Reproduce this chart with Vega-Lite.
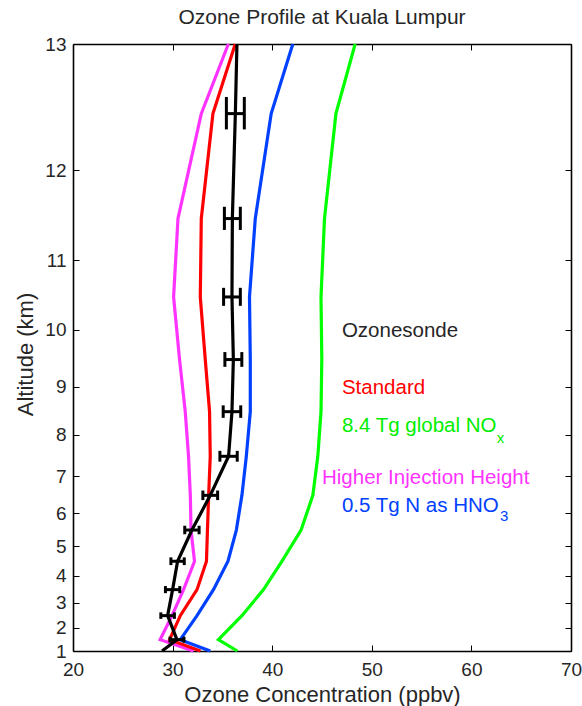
{
  "$schema": "https://vega.github.io/schema/vega-lite/v6.json",
  "width": 498,
  "height": 607,
  "autosize": "none",
  "padding": {"left": 73, "top": 44, "right": 11, "bottom": 55},
  "background": "white",
  "config": {
    "view": {"stroke": null},
    "font": "Liberation Sans",
    "axis": {
      "grid": false,
      "domainColor": "#000000",
      "domainWidth": 1.6,
      "tickColor": "#000000",
      "tickWidth": 1,
      "tickSize": -6,
      "labelColor": "#262626",
      "labelFont": "Liberation Sans",
      "labelFontSize": 19,
      "labelFlush": false,
      "labelOverlap": false,
      "titleColor": "#262626",
      "titleFont": "Liberation Sans",
      "titleFontSize": 22,
      "titleFontWeight": "normal"
    }
  },
  "title": {
    "text": "Ozone Profile at Kuala Lumpur",
    "fontSize": 21,
    "fontWeight": "normal",
    "color": "#262626",
    "font": "Liberation Sans",
    "offset": 7
  },
  "datasets": {
    "profiles": [
      {"series": "Higher Injection Height", "alt": 1, "o3": 32.1},
      {"series": "Higher Injection Height", "alt": 1.5, "o3": 28.75},
      {"series": "Higher Injection Height", "alt": 2.5, "o3": 29.94},
      {"series": "Higher Injection Height", "alt": 3.5, "o3": 31.1},
      {"series": "Higher Injection Height", "alt": 4.5, "o3": 32.2},
      {"series": "Higher Injection Height", "alt": 5.5, "o3": 31.85},
      {"series": "Higher Injection Height", "alt": 6.5, "o3": 31.78},
      {"series": "Higher Injection Height", "alt": 7.5, "o3": 31.6},
      {"series": "Higher Injection Height", "alt": 8.5, "o3": 31.27},
      {"series": "Higher Injection Height", "alt": 9.5, "o3": 30.7},
      {"series": "Higher Injection Height", "alt": 10.5, "o3": 30.1},
      {"series": "Higher Injection Height", "alt": 11.5, "o3": 30.54},
      {"series": "Higher Injection Height", "alt": 12.5, "o3": 32.88},
      {"series": "Higher Injection Height", "alt": 13, "o3": 35.6},
      {"series": "Standard", "alt": 1, "o3": 32.8},
      {"series": "Standard", "alt": 1.5, "o3": 29.7},
      {"series": "Standard", "alt": 2.5, "o3": 30.77},
      {"series": "Standard", "alt": 3.5, "o3": 32.45},
      {"series": "Standard", "alt": 4.5, "o3": 33.4},
      {"series": "Standard", "alt": 5.5, "o3": 33.5},
      {"series": "Standard", "alt": 6.5, "o3": 33.62},
      {"series": "Standard", "alt": 7.5, "o3": 33.78},
      {"series": "Standard", "alt": 8.5, "o3": 33.71},
      {"series": "Standard", "alt": 9.5, "o3": 33.28},
      {"series": "Standard", "alt": 10.5, "o3": 32.78},
      {"series": "Standard", "alt": 11.5, "o3": 32.88},
      {"series": "Standard", "alt": 12.5, "o3": 34.05},
      {"series": "Standard", "alt": 13, "o3": 36.29},
      {"series": "HNO3", "alt": 1, "o3": 33.78},
      {"series": "HNO3", "alt": 1.5, "o3": 30.77},
      {"series": "HNO3", "alt": 2.5, "o3": 32.45},
      {"series": "HNO3", "alt": 3.5, "o3": 34.1},
      {"series": "HNO3", "alt": 4.5, "o3": 35.56},
      {"series": "HNO3", "alt": 5.5, "o3": 36.4},
      {"series": "HNO3", "alt": 6.5, "o3": 36.96},
      {"series": "HNO3", "alt": 7.5, "o3": 37.4},
      {"series": "HNO3", "alt": 8.5, "o3": 37.8},
      {"series": "HNO3", "alt": 9.5, "o3": 37.8},
      {"series": "HNO3", "alt": 10.5, "o3": 37.72},
      {"series": "HNO3", "alt": 11.5, "o3": 38.3},
      {"series": "HNO3", "alt": 12.5, "o3": 39.9},
      {"series": "HNO3", "alt": 13, "o3": 42.07},
      {"series": "NOx", "alt": 1, "o3": 36.5},
      {"series": "NOx", "alt": 1.5, "o3": 34.6},
      {"series": "NOx", "alt": 2.5, "o3": 36.96},
      {"series": "NOx", "alt": 3.5, "o3": 39.13},
      {"series": "NOx", "alt": 4.5, "o3": 40.97},
      {"series": "NOx", "alt": 5.5, "o3": 42.9},
      {"series": "NOx", "alt": 6.5, "o3": 44.08},
      {"series": "NOx", "alt": 7.5, "o3": 44.58},
      {"series": "NOx", "alt": 8.5, "o3": 44.9},
      {"series": "NOx", "alt": 9.5, "o3": 44.98},
      {"series": "NOx", "alt": 10.5, "o3": 44.9},
      {"series": "NOx", "alt": 11.5, "o3": 45.25},
      {"series": "NOx", "alt": 12.5, "o3": 46.4},
      {"series": "NOx", "alt": 13, "o3": 48.33},
      {"series": "Ozonesonde", "alt": 1, "o3": 28.94},
      {"series": "Ozonesonde", "alt": 1.5, "o3": 30.44},
      {"series": "Ozonesonde", "alt": 2.5, "o3": 29.5},
      {"series": "Ozonesonde", "alt": 3.5, "o3": 30.0},
      {"series": "Ozonesonde", "alt": 4.5, "o3": 30.5},
      {"series": "Ozonesonde", "alt": 5.5, "o3": 31.94},
      {"series": "Ozonesonde", "alt": 6.5, "o3": 33.78},
      {"series": "Ozonesonde", "alt": 7.5, "o3": 35.62},
      {"series": "Ozonesonde", "alt": 8.5, "o3": 35.96},
      {"series": "Ozonesonde", "alt": 9.5, "o3": 36.1},
      {"series": "Ozonesonde", "alt": 10.5, "o3": 35.96},
      {"series": "Ozonesonde", "alt": 11.5, "o3": 36.0},
      {"series": "Ozonesonde", "alt": 12.5, "o3": 36.3},
      {"series": "Ozonesonde", "alt": 13, "o3": 36.46}
    ],
    "errors": [
      {"alt": 1.5, "lo": 29.74, "hi": 31.14},
      {"alt": 2.5, "lo": 28.82, "hi": 30.18},
      {"alt": 3.5, "lo": 29.28, "hi": 30.72},
      {"alt": 4.5, "lo": 29.83, "hi": 31.17},
      {"alt": 5.5, "lo": 31.22, "hi": 32.66},
      {"alt": 6.5, "lo": 33.04, "hi": 34.52},
      {"alt": 7.5, "lo": 34.75, "hi": 36.49},
      {"alt": 8.5, "lo": 35.08, "hi": 36.84},
      {"alt": 9.5, "lo": 35.25, "hi": 36.95},
      {"alt": 10.5, "lo": 35.12, "hi": 36.8},
      {"alt": 11.5, "lo": 35.2, "hi": 36.8},
      {"alt": 12.5, "lo": 35.4, "hi": 37.2}
    ],
    "labels": [
      {"series": "Ozonesonde", "text": "Ozonesonde", "o3": 47, "alt": 9.89},
      {"series": "Standard", "text": "Standard", "o3": 47, "alt": 8.85},
      {"series": "NOx", "text": "8.4 Tg global NO", "o3": 47, "alt": 8.06},
      {"series": "Higher Injection Height", "text": "Higher Injection Height", "o3": 45, "alt": 6.81},
      {"series": "HNO3", "text": "0.5 Tg N as HNO", "o3": 47, "alt": 6.04}
    ],
    "subscripts": [
      {"series": "NOx", "text": "x", "o3": 62.55, "alt": 7.82},
      {"series": "HNO3", "text": "3", "o3": 62.87, "alt": 5.77}
    ]
  },
  "layer": [
    {
      "data": {"name": "profiles"},
      "transform": [
        {"filter": "datum.series === 'Higher Injection Height'"},
        {"calculate": "15 - datum.alt", "as": "d"}
      ],
      "mark": {"type": "line", "color": "#ff33ff", "strokeWidth": 3.2},
      "encoding": {
        "x": {
          "field": "o3", "type": "quantitative",
          "scale": {"domain": [20, 70], "nice": false, "zero": false},
          "axis": {
            "orient": "bottom",
            "values": [20, 30, 40, 50, 60, 70],
            "title": "Ozone Concentration (ppbv)",
            "labelPadding": 15,
            "titlePadding": 5
          }
        },
        "y": {
          "field": "d", "type": "quantitative",
          "scale": {"type": "log", "domain": [2, 14], "reverse": true, "nice": false},
          "axis": {
            "orient": "left",
            "values": [14, 13, 12, 11, 10, 9, 8, 7, 6, 5, 4, 3, 2],
            "labelExpr": "15 - datum.value",
            "title": "Altitude (km)",
            "labelPadding": 13,
            "titlePadding": 7,
            "titleY": 310
          }
        },
        "order": {"field": "alt", "type": "quantitative"}
      }
    },
    {
      "data": {"name": "profiles"},
      "transform": [
        {"filter": "datum.series === 'Standard'"},
        {"calculate": "15 - datum.alt", "as": "d"}
      ],
      "mark": {"type": "line", "color": "#ff0000", "strokeWidth": 3.2},
      "encoding": {
        "x": {
          "field": "o3", "type": "quantitative",
          "axis": {
            "orient": "top",
            "values": [20, 30, 40, 50, 60, 70],
            "labels": false,
            "title": null
          }
        },
        "y": {
          "field": "d", "type": "quantitative",
          "axis": {
            "orient": "right",
            "values": [14, 13, 12, 11, 10, 9, 8, 7, 6, 5, 4, 3, 2],
            "labels": false,
            "title": null
          }
        },
        "order": {"field": "alt", "type": "quantitative"}
      }
    },
    {
      "data": {"name": "profiles"},
      "transform": [
        {"filter": "datum.series === 'HNO3'"},
        {"calculate": "15 - datum.alt", "as": "d"}
      ],
      "mark": {"type": "line", "color": "#0040ff", "strokeWidth": 3.2},
      "encoding": {
        "x": {"field": "o3", "type": "quantitative", "axis": null},
        "y": {"field": "d", "type": "quantitative", "axis": null},
        "order": {"field": "alt", "type": "quantitative"}
      }
    },
    {
      "data": {"name": "profiles"},
      "transform": [
        {"filter": "datum.series === 'NOx'"},
        {"calculate": "15 - datum.alt", "as": "d"}
      ],
      "mark": {"type": "line", "color": "#00ff00", "strokeWidth": 3.2},
      "encoding": {
        "x": {"field": "o3", "type": "quantitative", "axis": null},
        "y": {"field": "d", "type": "quantitative", "axis": null},
        "order": {"field": "alt", "type": "quantitative"}
      }
    },
    {
      "data": {"name": "profiles"},
      "transform": [
        {"filter": "datum.series === 'Ozonesonde'"},
        {"calculate": "15 - datum.alt", "as": "d"}
      ],
      "mark": {"type": "line", "color": "#000000", "strokeWidth": 3.2},
      "encoding": {
        "x": {"field": "o3", "type": "quantitative", "axis": null},
        "y": {"field": "d", "type": "quantitative", "axis": null},
        "order": {"field": "alt", "type": "quantitative"}
      }
    },
    {
      "data": {"name": "errors"},
      "transform": [{"calculate": "15 - datum.alt", "as": "d"}],
      "mark": {"type": "rule", "color": "#000000", "strokeWidth": 3},
      "encoding": {
        "x": {"field": "lo", "type": "quantitative", "axis": null},
        "x2": {"field": "hi"},
        "y": {"field": "d", "type": "quantitative", "axis": null}
      }
    },
    {
      "data": {"name": "errors"},
      "transform": [
        {"calculate": "15 - datum.alt - 0.13", "as": "dlo"},
        {"calculate": "15 - datum.alt + 0.13", "as": "dhi"}
      ],
      "mark": {"type": "rule", "color": "#000000", "strokeWidth": 3},
      "encoding": {
        "x": {"field": "lo", "type": "quantitative", "axis": null},
        "y": {"field": "dlo", "type": "quantitative", "axis": null},
        "y2": {"field": "dhi"}
      }
    },
    {
      "data": {"name": "errors"},
      "transform": [
        {"calculate": "15 - datum.alt - 0.13", "as": "dlo"},
        {"calculate": "15 - datum.alt + 0.13", "as": "dhi"}
      ],
      "mark": {"type": "rule", "color": "#000000", "strokeWidth": 3},
      "encoding": {
        "x": {"field": "hi", "type": "quantitative", "axis": null},
        "y": {"field": "dlo", "type": "quantitative", "axis": null},
        "y2": {"field": "dhi"}
      }
    },
    {
      "data": {"name": "labels"},
      "transform": [{"calculate": "15 - datum.alt", "as": "d"}],
      "mark": {"type": "text", "align": "left", "baseline": "alphabetic", "fontSize": 20.5, "font": "Liberation Sans"},
      "encoding": {
        "x": {"field": "o3", "type": "quantitative", "axis": null},
        "y": {"field": "d", "type": "quantitative", "axis": null},
        "text": {"field": "text"},
        "color": {
          "field": "series", "type": "nominal", "legend": null,
          "scale": {
            "domain": ["Ozonesonde", "Standard", "NOx", "Higher Injection Height", "HNO3"],
            "range": ["#262626", "#ff0000", "#00ee00", "#ff33ff", "#0040ff"]
          }
        }
      }
    },
    {
      "data": {"name": "subscripts"},
      "transform": [{"calculate": "15 - datum.alt", "as": "d"}],
      "mark": {"type": "text", "align": "left", "baseline": "alphabetic", "fontSize": 15, "font": "Liberation Sans"},
      "encoding": {
        "x": {"field": "o3", "type": "quantitative", "axis": null},
        "y": {"field": "d", "type": "quantitative", "axis": null},
        "text": {"field": "text"},
        "color": {"field": "series", "type": "nominal", "legend": null}
      }
    }
  ],
  "resolve": {"axis": {"x": "independent", "y": "independent"}}
}
